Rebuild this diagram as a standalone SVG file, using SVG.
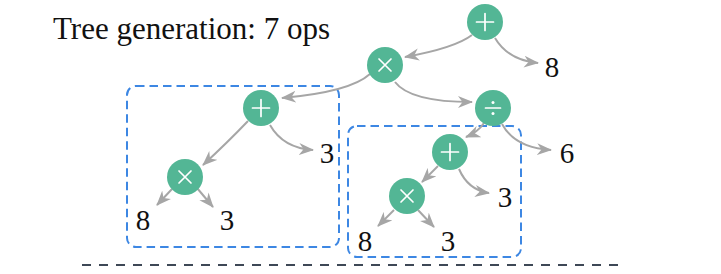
<svg xmlns="http://www.w3.org/2000/svg" width="721" height="274" viewBox="0 0 721 274">
<style>
.t{font-family:"Liberation Serif","Times New Roman",serif;fill:#111}
.n{font-size:29px;text-anchor:middle}
.node .bg{fill:#53b695}
.node .dot{fill:#fff}
.sym{stroke:#fff;stroke-width:1.7;fill:none;stroke-linecap:round}
.e{fill:none;stroke:#a6a6a6;stroke-width:2;marker-end:url(#ah)}
.box{fill:none;stroke:#3d87e3;stroke-width:2;stroke-dasharray:8.5 5}
</style>
<defs>
<marker id="ah" markerUnits="userSpaceOnUse" markerWidth="15" markerHeight="13" viewBox="0 0 15 13" refX="14" refY="6.5" orient="auto">
<path d="M0,0.5 L15,6.5 L0,12.5 L4.5,6.5 Z" fill="#a6a6a6"/>
</marker>
</defs>
<rect width="721" height="274" fill="#fff"/>
<text class="t" x="53" y="39" font-size="31">Tree generation: 7 ops</text>
<g id="boxes">
<rect class="box" x="127" y="86" width="212" height="161" rx="9"/>
<rect class="box" x="348" y="126" width="173" height="131" rx="9"/>
</g>
<line x1="82" y1="265" x2="621" y2="265" stroke="#3e4856" stroke-width="2" stroke-dasharray="9 8"/>
<g id="connectors">
<path class="e" d="M472,35 Q455,48 405,57"/>
<path class="e" d="M495,38 Q508,60 538,63"/>
<path class="e" d="M370,74 Q350,92 282,98"/>
<path class="e" d="M395,82 Q410,102 472,102"/>
<path class="e" d="M484,123 Q478,132 466,137"/>
<path class="e" d="M502,124 Q515,148 551,150"/>
<path class="e" d="M248,121 Q228,142 203,165"/>
<path class="e" d="M270,125 Q283,148 313,150"/>
<path class="e" d="M172,189 L157,205"/>
<path class="e" d="M197,188 L213,207"/>
<path class="e" d="M438,166 L422,182"/>
<path class="e" d="M459,169 Q468,190 489,193"/>
<path class="e" d="M394,210 L378,226"/>
<path class="e" d="M418,210 L434,227"/>
</g>
<g id="n-root" class="node"><circle class="bg" cx="485" cy="22" r="18"/><path class="sym" d="M476.5,22 H493.5 M485,13.5 V30.5"/></g>
<g id="n-mul1" class="node"><circle class="bg" cx="385" cy="65" r="18"/><path class="sym" d="M379,59 L391,71 M391,59 L379,71"/></g>
<g id="n-8a"><text class="t n" x="552" y="77">8</text></g>
<g id="n-div" class="node"><circle class="bg" cx="493" cy="108" r="18"/><path class="sym" d="M485.5,108 H500.5"/><circle class="dot" cx="493" cy="102.5" r="1.5"/><circle class="dot" cx="493" cy="113.5" r="1.5"/></g>
<g id="n-addL" class="node"><circle class="bg" cx="261" cy="108" r="18"/><path class="sym" d="M252.5,108 H269.5 M261,99.5 V116.5"/></g>
<g id="n-3a"><text class="t n" x="327" y="163">3</text></g>
<g id="n-mulL" class="node"><circle class="bg" cx="185" cy="177" r="18"/><path class="sym" d="M179,171 L191,183 M191,171 L179,183"/></g>
<g id="n-8b"><text class="t n" x="143" y="230">8</text></g>
<g id="n-3b"><text class="t n" x="227" y="230">3</text></g>
<g id="n-6"><text class="t n" x="567" y="163">6</text></g>
<g id="n-addR" class="node"><circle class="bg" cx="450" cy="152" r="18"/><path class="sym" d="M441.5,152 H458.5 M450,143.5 V160.5"/></g>
<g id="n-3c"><text class="t n" x="505" y="207">3</text></g>
<g id="n-mulR" class="node"><circle class="bg" cx="407" cy="196" r="18"/><path class="sym" d="M401,190 L413,202 M413,190 L401,202"/></g>
<g id="n-8c"><text class="t n" x="365" y="251">8</text></g>
<g id="n-3d"><text class="t n" x="448" y="251">3</text></g>
</svg>
